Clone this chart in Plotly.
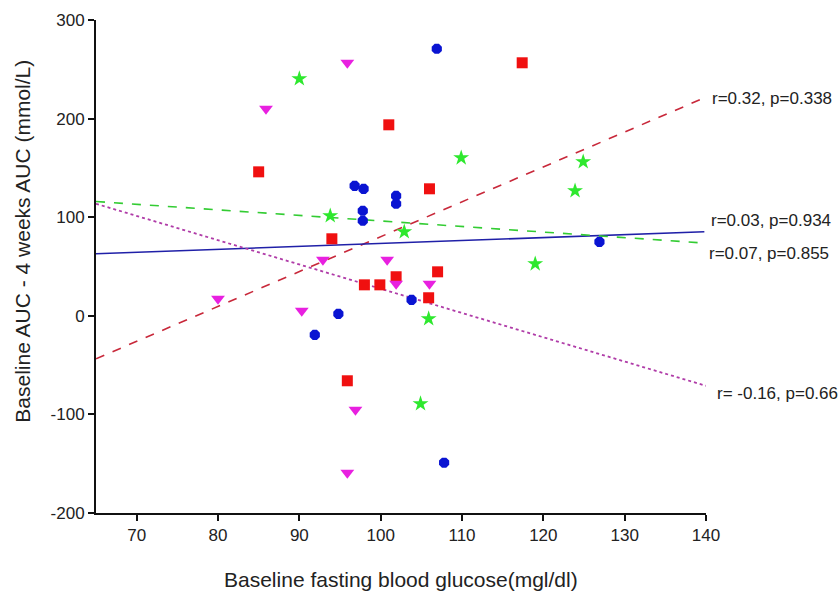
import plotly.graph_objects as go

# Baseline fasting blood glucose (mg/dl) vs change in AUC, four groups
blue_x = [106.9, 96.8, 97.9, 101.9, 101.9, 97.8, 97.8, 126.9, 91.9, 94.8, 103.8, 107.8]
blue_y = [270.8, 131.8, 128.8, 121.7, 113.6, 106.5, 96.4, 75.0, -19.3, 2.0, 16.2, -149.0]

red_x = [117.4, 101.0, 85.0, 106.0, 94.0, 98.0, 99.9, 101.9, 107.0, 105.9, 95.9]
red_y = [256.6, 193.7, 146.0, 128.8, 78.1, 31.4, 31.4, 39.6, 44.6, 18.3, -65.9]

green_x = [90.0, 109.9, 124.9, 123.9, 93.8, 102.9, 119.0, 105.9, 104.9]
green_y = [240.4, 160.2, 156.2, 126.8, 101.4, 85.2, 52.7, -3.0, -89.2]

magenta_x = [95.9, 85.9, 92.9, 80.0, 90.3, 100.8, 101.9, 106.0, 96.9, 95.9]
magenta_y = [256.6, 210.0, 56.8, 17.2, 5.0, 56.8, 32.5, 32.5, -95.3, -159.2]

# Regression lines: x span and fitted y at each end
red_fit_x = [65, 139.5]
red_fit_y = [-43.6, 220.0]
blue_fit_x = [65, 139.8]
blue_fit_y = [62.9, 85.2]
green_fit_x = [65, 139.4]
green_fit_y = [115.9, 74.0]
magenta_fit_x = [65, 140.0]
magenta_fit_y = [113.6, -71.0]

fit_labels = ["r=0.32, p=0.338", "r=0.03, p=0.934", "r=0.07, p=0.855", "r= -0.16, p=0.66"]

x_ticks = [70, 80, 90, 100, 110, 120, 130, 140]
y_ticks = [-200, -100, 0, 100, 200, 300]
y_tick_text = ["-200", "-100", "0", "100", "200", "300"]

X_RANGE = [65, 140]
Y_RANGE = [-200, 300]
FONT = "Liberation Sans, Arial, sans-serif"

fig = go.Figure()

# fitted lines (drawn beneath the markers)
fig.add_trace(go.Scatter(x=red_fit_x, y=red_fit_y, mode="lines",
                         line=dict(color="#c8283a", width=1.6, dash="dash")))
fig.add_trace(go.Scatter(x=blue_fit_x, y=blue_fit_y, mode="lines",
                         line=dict(color="#2020a8", width=1.6)))
fig.add_trace(go.Scatter(x=green_fit_x, y=green_fit_y, mode="lines",
                         line=dict(color="#33cc33", width=1.6, dash="dash")))
fig.add_trace(go.Scatter(x=magenta_fit_x, y=magenta_fit_y, mode="lines",
                         line=dict(color="#b03ca8", width=1.8, dash="dot")))

# data points
fig.add_trace(go.Scatter(x=blue_x, y=blue_y, mode="markers",
                         marker=dict(symbol="octagon", size=11, color="#0a14d2",
                                     line=dict(width=0))))
fig.add_trace(go.Scatter(x=red_x, y=red_y, mode="markers",
                         marker=dict(symbol="square", size=11, color="#f01010",
                                     line=dict(width=0))))
fig.add_trace(go.Scatter(x=green_x, y=green_y, mode="markers",
                         marker=dict(symbol="star", size=12, color="#2ee82e",
                                     line=dict(width=0))))
fig.add_trace(go.Scatter(x=magenta_x, y=magenta_y, mode="markers",
                         marker=dict(symbol="triangle-down", size=12, color="#e820e0",
                                     line=dict(width=0))))


def to_paper_x(v):
    return (v - X_RANGE[0]) / (X_RANGE[1] - X_RANGE[0])


def to_paper_y(v):
    return (v - Y_RANGE[0]) / (Y_RANGE[1] - Y_RANGE[0])


# labels sit just right of the plotting area, beside each fitted line
label_pos = [(140.5, 220.0), (140.4, 96.3), (140.1, 62.9), (141.1, -79.0)]
annotations = []
for text, (ax, ay) in zip(fit_labels, label_pos):
    annotations.append(dict(x=to_paper_x(ax), y=to_paper_y(ay), xref="paper", yref="paper",
                            text=text, showarrow=False, xanchor="left", yanchor="middle",
                            font=dict(family=FONT, size=17, color="#222222")))

# axis titles
annotations.append(dict(x=0.5, y=-0.135, xref="paper", yref="paper",
                        xanchor="center", yanchor="middle", showarrow=False,
                        text="Baseline fasting blood glucose(mgl/dl)",
                        font=dict(family=FONT, size=21, color="#222222")))
annotations.append(dict(x=-0.12, y=0.552, xref="paper", yref="paper",
                        xanchor="center", yanchor="middle", showarrow=False,
                        textangle=-90,
                        text="Baseline AUC - 4 weeks AUC (mmol/L)",
                        font=dict(family=FONT, size=21, color="#222222")))

axis_common = dict(showgrid=False, zeroline=False, showline=True,
                   linecolor="#111111", linewidth=2, ticks="outside",
                   ticklen=6, tickwidth=1.5, tickcolor="#111111",
                   tickfont=dict(family=FONT, size=17, color="#222222"))

fig.update_layout(
    width=840, height=595,
    margin=dict(l=96, r=134, t=20, b=82),
    paper_bgcolor="white", plot_bgcolor="white",
    showlegend=False,
    annotations=annotations,
    xaxis=dict(range=X_RANGE, tickvals=x_ticks, **axis_common),
    yaxis=dict(range=Y_RANGE, tickvals=y_ticks, ticktext=y_tick_text, **axis_common),
)

fig.write_html("out.html")
